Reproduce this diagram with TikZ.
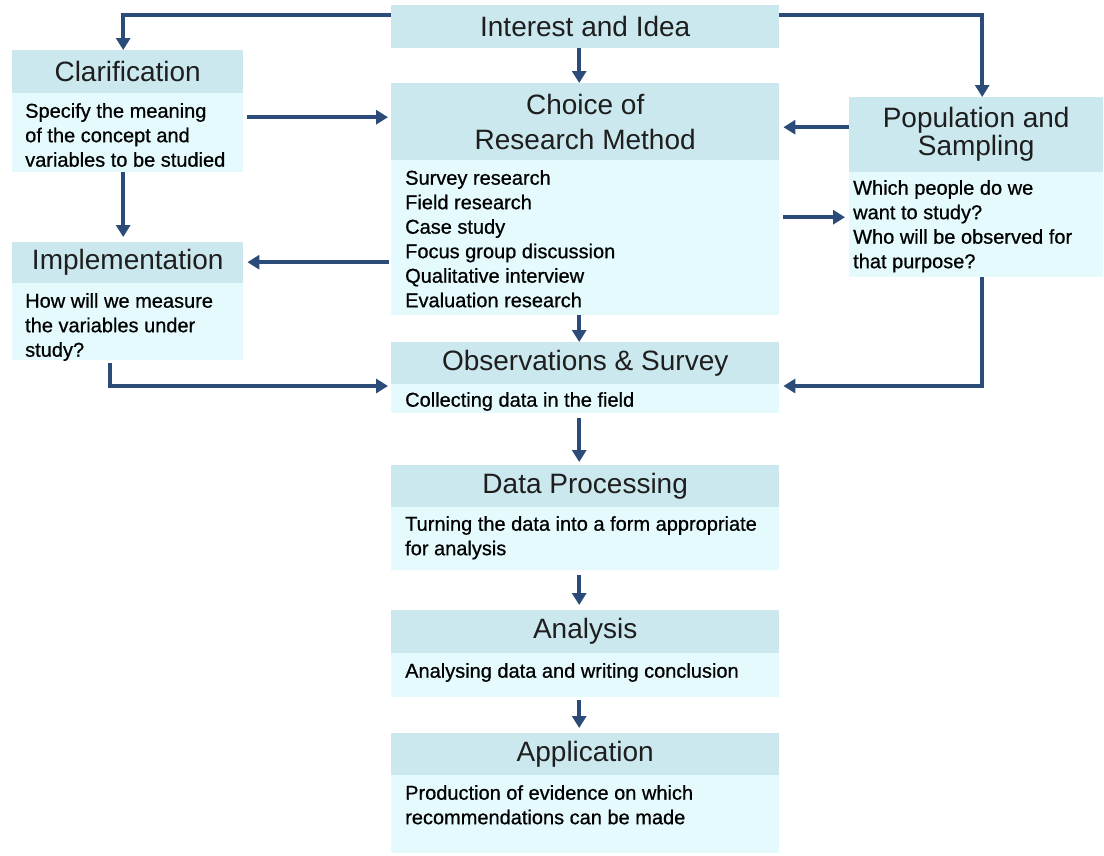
\documentclass[tikz,border=0pt]{standalone}
\usepackage{fontspec}
\setmainfont{Liberation Sans}
\newfontfamily\bfont[FakeBold=0.7]{Liberation Sans}
\usetikzlibrary{arrows.meta}
\definecolor{hdrc}{HTML}{CBE8EE}
\definecolor{bodyc}{HTML}{E4FAFD}
\definecolor{arrc}{HTML}{2B4B78}
\definecolor{txtc}{HTML}{1E1E1E}
\begin{document}
\begin{tikzpicture}[x=1pt,y=-1pt,
  hdr/.style={rectangle, fill=hdrc, inner sep=0pt, anchor=north west, align=center, text=txtc, font=\fontsize{28}{35}\selectfont},
  bodybg/.style={rectangle, fill=bodyc, inner sep=0pt, anchor=north west},
  btxt/.style={inner sep=0pt, anchor=north west, align=left, text=black, font=\bfont\fontsize{20}{24.5}\selectfont},
  arr/.style={draw=arrc, line width=3.5pt, -{Triangle[length=12pt,width=14pt]}}]
\path[use as bounding box, fill=white] (0,0) rectangle (1104,855);

% Interest and Idea
\node[hdr, minimum width=388pt, minimum height=43pt] (inth) at (391,5) {Interest and Idea};

% Choice of Research Method
\node[hdr, minimum width=388pt, minimum height=77pt] (choiceh) at (391,83) {Choice of\\Research Method};
\node[bodybg, minimum width=388pt, minimum height=155pt] (choiceb) at (391,160) {};
\node[btxt] (choicet) at ([shift={(14pt,-10pt)}]choiceb.north west) {Survey research\\Field research\\Case study\\Focus group discussion\\Qualitative interview\\Evaluation research};

% Observations & Survey
\node[hdr, minimum width=388pt, minimum height=42pt] (obsh) at (391,342) {Observations \& Survey};
\node[bodybg, minimum width=388pt, minimum height=29pt] (obsb) at (391,384) {};
\node[btxt] (obst) at ([shift={(14pt,-8pt)}]obsb.north west) {Collecting data in the field};

% Data Processing
\node[hdr, minimum width=388pt, minimum height=42pt] (datah) at (391,465) {Data Processing};
\node[bodybg, minimum width=388pt, minimum height=63pt] (datab) at (391,507) {};
\node[btxt] (datat) at ([shift={(14pt,-9pt)}]datab.north west) {Turning the data into a form appropriate\\for analysis};

% Analysis
\node[hdr, minimum width=388pt, minimum height=43pt] (anh) at (391,610) {Analysis};
\node[bodybg, minimum width=388pt, minimum height=44pt] (anb) at (391,653) {};
\node[btxt] (ant) at ([shift={(14pt,-10pt)}]anb.north west) {Analysing data and writing conclusion};

% Application
\node[hdr, minimum width=388pt, minimum height=42pt] (apph) at (391,733) {Application};
\node[bodybg, minimum width=388pt, minimum height=78pt] (appb) at (391,775) {};
\node[btxt] (appt) at ([shift={(14pt,-10pt)}]appb.north west) {Production of evidence on which\\recommendations can be made};

% Clarification
\node[hdr, minimum width=231pt, minimum height=43pt] (clarh) at (12,50) {Clarification};
\node[bodybg, minimum width=231pt, minimum height=79pt] (clarb) at (12,93) {};
\node[btxt] (clart) at ([shift={(13pt,-10pt)}]clarb.north west) {Specify the meaning\\of the concept and\\variables to be studied};

% Implementation
\node[hdr, minimum width=231pt, minimum height=41pt] (imph) at (12,242) {Implementation};
\node[bodybg, minimum width=231pt, minimum height=77pt] (impb) at (12,283) {};
\node[btxt] (impt) at ([shift={(13pt,-10pt)}]impb.north west) {How will we measure\\the variables under\\study?};

% Population and Sampling
\node[hdr, minimum width=254pt, minimum height=75pt, font=\fontsize{28}{28}\selectfont] (poph) at (849,97) {Population and\\Sampling};
\node[bodybg, minimum width=254pt, minimum height=105pt] (popb) at (849,172) {};
\node[btxt] (popt) at ([shift={(4pt,-8pt)}]popb.north west) {Which people do we\\want to study?\\Who will be observed for\\that purpose?};

% helper coordinates
\coordinate (cIL) at ([yshift=11.5pt]inth.west);
\coordinate (cIR) at ([yshift=11.5pt]inth.east);
\coordinate (cCl) at ([xshift=-4.5pt]clarh.north);
\coordinate (cPo) at ([xshift=6pt]poph.north);
\coordinate (cClC) at ([yshift=15.5pt]clarb.east);
\coordinate (cPoC) at ([yshift=7.5pt]poph.west);
\coordinate (cChP) at ([yshift=20.5pt]choiceb.east);
\coordinate (cChI) at ([yshift=-24.5pt]choiceb.west);
\coordinate (cClI) at ([xshift=-4.5pt]clarb.south);
\coordinate (cImO) at ([xshift=-17.5pt]impb.south);
\coordinate (cPoO) at ([xshift=6pt]popb.south);
\coordinate (cObL) at ([yshift=-2pt]obsb.north west);
\coordinate (cObR) at ([yshift=-2pt]obsb.north east);

% connectors
\draw[arr] (cIL) -| (cCl);
\draw[arr] (cIR) -| (cPo);
\draw[arr, shorten <=4pt, shorten >=3pt] (cClC) -- (cClC -| choiceh.west);
\draw[arr, shorten >=4pt] (cPoC) -- (cPoC -| choiceh.east);
\draw[arr, shorten <=4pt, shorten >=4pt] (cChP) -- (cChP -| popb.west);
\draw[arr, shorten <=2pt, shorten >=4pt] (cChI) -- (cChI -| imph.east);
\draw[arr, shorten >=5pt] (cClI) -- (cClI |- imph.north);
\draw[arr, shorten <=3pt, shorten >=3pt] (cImO) |- (cObL);
\draw[arr, shorten >=4pt] (cPoO) |- (cObR);
\draw[arr] ([xshift=-6pt]inth.south) -- ([xshift=-6pt]choiceh.north);
\draw[arr] ([xshift=-6pt]choiceb.south) -- ([xshift=-6pt]obsh.north);
\draw[arr, shorten <=5pt, shorten >=3pt] ([xshift=-6pt]obsb.south) -- ([xshift=-6pt]datah.north);
\draw[arr, shorten <=5pt, shorten >=5pt] ([xshift=-6pt]datab.south) -- ([xshift=-6pt]anh.north);
\draw[arr, shorten <=3pt, shorten >=5pt] ([xshift=-6pt]anb.south) -- ([xshift=-6pt]apph.north);
\end{tikzpicture}
\end{document}
